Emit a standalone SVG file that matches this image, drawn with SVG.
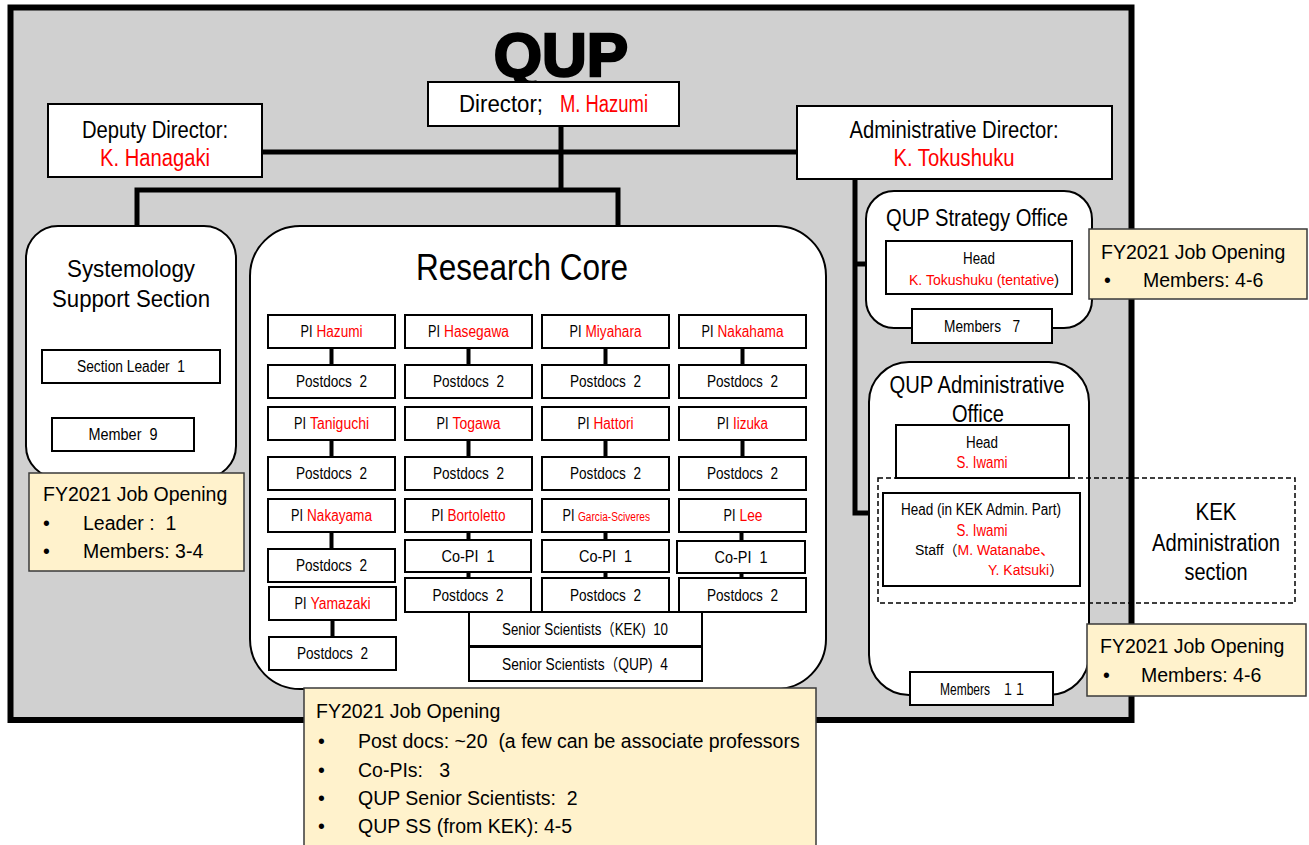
<svg xmlns="http://www.w3.org/2000/svg" width="1309" height="845" viewBox="0 0 1309 845">
<style>
text { font-family: "Liberation Sans", Arial, "Noto Sans CJK JP", sans-serif; fill: #000; }
.r { fill: #ff0000; }
.box { fill: #fff; stroke: #000; stroke-width: 2; }
.rbox { fill: #fff; stroke: #000; stroke-width: 2; }
.yel { fill: #fff2cc; stroke: #3a3a3a; stroke-width: 1.5; }
.conn { stroke: #000; stroke-width: 5; fill: none; }
.gl { stroke: #000; stroke-width: 4; fill: none; }
.g14 { font-size: 16px; text-anchor: middle; }
.s16 { font-size: 16px; }
.ttl { font-size: 23px; text-anchor: middle; }
.y { font-size: 19.5px; }
</style>
<rect x="0" y="0" width="1309" height="845" fill="#fff"/>
<g id="frame">
<rect x="10.5" y="7.5" width="1121" height="712.5" fill="#d0d0d0" stroke="#000" stroke-width="6"/>
<text x="561" y="76" font-size="62" font-weight="bold" text-anchor="middle" stroke="#000" stroke-width="2.5">QUP</text>
</g>
<g id="connectors">
<path class="conn" d="M262 152 H796"/>
<path class="conn" d="M561 126 V190"/>
<path class="conn" d="M137 228 V190 H618 V228"/>
<path class="conn" d="M855 179 V513 H869"/>
<path class="conn" d="M855 264 H866"/>
</g>
<g id="director">
<rect class="box" x="428" y="82" width="251" height="44"/>
<text x="459" y="112" font-size="23" textLength="84" lengthAdjust="spacingAndGlyphs">Director;</text>
<text class="r" x="560" y="112" font-size="23" textLength="88" lengthAdjust="spacingAndGlyphs">M. Hazumi</text>
</g>
<g id="deputy-director">
<rect class="box" x="48" y="104" width="214" height="73"/>
<text class="ttl" x="155" y="138" textLength="146" lengthAdjust="spacingAndGlyphs">Deputy Director:</text>
<text class="ttl r" x="155" y="166" textLength="110" lengthAdjust="spacingAndGlyphs">K. Hanagaki</text>
</g>
<g id="admin-director">
<rect class="box" x="797" y="106" width="315" height="73"/>
<text class="ttl" x="954" y="138" textLength="209" lengthAdjust="spacingAndGlyphs">Administrative Director:</text>
<text class="ttl r" x="954" y="166" textLength="121" lengthAdjust="spacingAndGlyphs">K. Tokushuku</text>
</g>
<g id="systemology">
<rect class="rbox" x="26" y="226" width="210" height="252" rx="32"/>
<text x="131" y="277" font-size="24" text-anchor="middle" textLength="128" lengthAdjust="spacingAndGlyphs">Systemology</text>
<text x="131" y="307" font-size="24" text-anchor="middle" textLength="158" lengthAdjust="spacingAndGlyphs">Support Section</text>
<rect class="box" x="42" y="350" width="178" height="33"/>
<text class="g14" x="131" y="372" textLength="108" lengthAdjust="spacingAndGlyphs">Section Leader&#160;&#160;1</text>
<rect class="box" x="52" y="418" width="142" height="33"/>
<text class="g14" x="123" y="440" textLength="69" lengthAdjust="spacingAndGlyphs">Member&#160;&#160;9</text>
</g>
<g id="research-core">
<rect class="rbox" x="250" y="226" width="576" height="463" rx="50"/>
<text x="522" y="280" font-size="37" text-anchor="middle" textLength="212" lengthAdjust="spacingAndGlyphs">Research Core</text>
</g>
<g id="grid-connectors">
<path class="gl" d="M331.5 348 V365 M331.5 440 V457 M331.5 532 V549 M332.5 620 V637"/>
<path class="gl" d="M468.5 348 V365 M468.5 440 V457 M468.5 532 V540 M468.5 572 V578"/>
<path class="gl" d="M605.5 348 V365 M605.5 440 V457 M605.5 532 V540 M605.5 572 V578"/>
<path class="gl" d="M742.5 348 V365 M742.5 440 V457 M741.5 532 V541 M741.5 573 V578"/>
</g>
<g id="pi-hazumi"><rect class="box" x="268" y="315" width="127" height="33"/><text class="s16" x="300.5" y="337" textLength="12" lengthAdjust="spacingAndGlyphs">PI</text><text class="s16 r" x="316.5" y="337" textLength="46" lengthAdjust="spacingAndGlyphs">Hazumi</text></g>
<g id="pd-hazumi"><rect class="box" x="268" y="365" width="127" height="33"/><text class="g14" x="331.5" y="387" textLength="71" lengthAdjust="spacingAndGlyphs">Postdocs&#160; 2</text></g>
<g id="pi-taniguchi"><rect class="box" x="268" y="407" width="127" height="33"/><text class="s16" x="294" y="429" textLength="12" lengthAdjust="spacingAndGlyphs">PI</text><text class="s16 r" x="310" y="429" textLength="59" lengthAdjust="spacingAndGlyphs">Taniguchi</text></g>
<g id="pd-taniguchi"><rect class="box" x="268" y="457" width="127" height="33"/><text class="g14" x="331.5" y="479" textLength="71" lengthAdjust="spacingAndGlyphs">Postdocs&#160; 2</text></g>
<g id="pi-nakayama"><rect class="box" x="268" y="499" width="127" height="33"/><text class="s16" x="291" y="521" textLength="12" lengthAdjust="spacingAndGlyphs">PI</text><text class="s16 r" x="307" y="521" textLength="65" lengthAdjust="spacingAndGlyphs">Nakayama</text></g>
<g id="pd-nakayama"><rect class="box" x="268" y="549" width="127" height="33"/><text class="g14" x="331.5" y="571" textLength="71" lengthAdjust="spacingAndGlyphs">Postdocs&#160; 2</text></g>
<g id="pi-yamazaki"><rect class="box" x="269" y="587" width="127" height="33"/><text class="s16" x="294.5" y="609" textLength="12" lengthAdjust="spacingAndGlyphs">PI</text><text class="s16 r" x="310.5" y="609" textLength="60" lengthAdjust="spacingAndGlyphs">Yamazaki</text></g>
<g id="pd-yamazaki"><rect class="box" x="269" y="637" width="127" height="33"/><text class="g14" x="332.5" y="659" textLength="71" lengthAdjust="spacingAndGlyphs">Postdocs&#160; 2</text></g>
<g id="pi-hasegawa"><rect class="box" x="405" y="315" width="127" height="33"/><text class="s16" x="428" y="337" textLength="12" lengthAdjust="spacingAndGlyphs">PI</text><text class="s16 r" x="444" y="337" textLength="65" lengthAdjust="spacingAndGlyphs">Hasegawa</text></g>
<g id="pd-hasegawa"><rect class="box" x="405" y="365" width="127" height="33"/><text class="g14" x="468.5" y="387" textLength="71" lengthAdjust="spacingAndGlyphs">Postdocs&#160; 2</text></g>
<g id="pi-togawa"><rect class="box" x="405" y="407" width="127" height="33"/><text class="s16" x="436.5" y="429" textLength="12" lengthAdjust="spacingAndGlyphs">PI</text><text class="s16 r" x="452.5" y="429" textLength="48" lengthAdjust="spacingAndGlyphs">Togawa</text></g>
<g id="pd-togawa"><rect class="box" x="405" y="457" width="127" height="33"/><text class="g14" x="468.5" y="479" textLength="71" lengthAdjust="spacingAndGlyphs">Postdocs&#160; 2</text></g>
<g id="pi-bortoletto"><rect class="box" x="405" y="499" width="127" height="33"/><text class="s16" x="431.5" y="521" textLength="12" lengthAdjust="spacingAndGlyphs">PI</text><text class="s16 r" x="447.5" y="521" textLength="58" lengthAdjust="spacingAndGlyphs">Bortoletto</text></g>
<g id="copi-bortoletto"><rect class="box" x="405" y="540" width="126" height="32"/><text class="g14" x="468" y="562" textLength="53" lengthAdjust="spacingAndGlyphs">Co-PI&#160; 1</text></g>
<g id="pd-bortoletto"><rect class="box" x="405" y="578" width="126" height="34"/><text class="g14" x="468" y="601" textLength="71" lengthAdjust="spacingAndGlyphs">Postdocs&#160; 2</text></g>
<g id="pi-miyahara"><rect class="box" x="542" y="315" width="127" height="33"/><text class="s16" x="569.5" y="337" textLength="12" lengthAdjust="spacingAndGlyphs">PI</text><text class="s16 r" x="585.5" y="337" textLength="56" lengthAdjust="spacingAndGlyphs">Miyahara</text></g>
<g id="pd-miyahara"><rect class="box" x="542" y="365" width="127" height="33"/><text class="g14" x="605.5" y="387" textLength="71" lengthAdjust="spacingAndGlyphs">Postdocs&#160; 2</text></g>
<g id="pi-hattori"><rect class="box" x="542" y="407" width="127" height="33"/><text class="s16" x="577.5" y="429" textLength="12" lengthAdjust="spacingAndGlyphs">PI</text><text class="s16 r" x="593.5" y="429" textLength="40" lengthAdjust="spacingAndGlyphs">Hattori</text></g>
<g id="pd-hattori"><rect class="box" x="542" y="457" width="127" height="33"/><text class="g14" x="605.5" y="479" textLength="71" lengthAdjust="spacingAndGlyphs">Postdocs&#160; 2</text></g>
<g id="pi-garcia"><rect class="box" x="542" y="499" width="127" height="33"/><text class="s16" x="562.5" y="521" textLength="12" lengthAdjust="spacingAndGlyphs">PI</text><text class="r" x="578" y="521" font-size="12.5" textLength="72" lengthAdjust="spacingAndGlyphs">Garcia-Sciveres</text></g>
<g id="copi-garcia"><rect class="box" x="542" y="540" width="127" height="32"/><text class="g14" x="605.5" y="562" textLength="53" lengthAdjust="spacingAndGlyphs">Co-PI&#160; 1</text></g>
<g id="pd-garcia"><rect class="box" x="542" y="578" width="127" height="34"/><text class="g14" x="605.5" y="601" textLength="71" lengthAdjust="spacingAndGlyphs">Postdocs&#160; 2</text></g>
<g id="pi-nakahama"><rect class="box" x="679" y="315" width="127" height="33"/><text class="s16" x="701.5" y="337" textLength="12" lengthAdjust="spacingAndGlyphs">PI</text><text class="s16 r" x="717.5" y="337" textLength="66" lengthAdjust="spacingAndGlyphs">Nakahama</text></g>
<g id="pd-nakahama"><rect class="box" x="679" y="365" width="127" height="33"/><text class="g14" x="742.5" y="387" textLength="71" lengthAdjust="spacingAndGlyphs">Postdocs&#160; 2</text></g>
<g id="pi-iizuka"><rect class="box" x="679" y="407" width="127" height="33"/><text class="s16" x="717" y="429" textLength="12" lengthAdjust="spacingAndGlyphs">PI</text><text class="s16 r" x="733" y="429" textLength="35" lengthAdjust="spacingAndGlyphs">Iizuka</text></g>
<g id="pd-iizuka"><rect class="box" x="679" y="457" width="127" height="33"/><text class="g14" x="742.5" y="479" textLength="71" lengthAdjust="spacingAndGlyphs">Postdocs&#160; 2</text></g>
<g id="pi-lee"><rect class="box" x="679" y="499" width="127" height="33"/><text class="s16" x="723.5" y="521" textLength="12" lengthAdjust="spacingAndGlyphs">PI</text><text class="s16 r" x="739.5" y="521" textLength="23" lengthAdjust="spacingAndGlyphs">Lee</text></g>
<g id="copi-lee"><rect class="box" x="677" y="541" width="128" height="32"/><text class="g14" x="741" y="563" textLength="53" lengthAdjust="spacingAndGlyphs">Co-PI&#160; 1</text></g>
<g id="pd-lee"><rect class="box" x="679" y="578" width="127" height="34"/><text class="g14" x="742.5" y="601" textLength="71" lengthAdjust="spacingAndGlyphs">Postdocs&#160; 2</text></g>
<g id="senior-kek"><rect class="box" x="469" y="612" width="233" height="34"/><text class="g14" x="585" y="635" textLength="166" lengthAdjust="spacingAndGlyphs">Senior Scientists（KEK)&#160; 10</text></g>
<g id="senior-qup"><rect class="box" x="469" y="647" width="233" height="34"/><text class="g14" x="585" y="670" textLength="166" lengthAdjust="spacingAndGlyphs">Senior Scientists（QUP)&#160; 4</text></g>
<g id="strategy-office">
<rect class="rbox" x="866" y="191" width="226" height="137" rx="28"/>
<text class="ttl" x="977" y="226" textLength="182" lengthAdjust="spacingAndGlyphs">QUP Strategy Office</text>
<rect class="box" x="886" y="241" width="186" height="53"/>
<text class="g14" x="979" y="264" textLength="32" lengthAdjust="spacingAndGlyphs">Head</text>
<text x="984" y="285" font-size="14" text-anchor="middle"><tspan class="r">K. Tokushuku (tentative</tspan>)</text>
<rect class="box" x="912" y="309" width="140" height="34"/>
<text class="g14" x="982" y="332" textLength="76" lengthAdjust="spacingAndGlyphs">Members&#160;&#160; 7</text>
</g>
<g id="admin-office">
<rect class="rbox" x="869" y="362" width="220" height="333" rx="40"/>
<text class="ttl" x="977" y="393" textLength="175" lengthAdjust="spacingAndGlyphs">QUP Administrative</text>
<text class="ttl" x="978" y="422" textLength="52" lengthAdjust="spacingAndGlyphs">Office</text>
<rect class="box" x="896" y="425" width="173" height="53"/>
<text class="g14" x="982" y="448" textLength="32" lengthAdjust="spacingAndGlyphs">Head</text>
<text class="g14 r" x="982" y="468" textLength="51" lengthAdjust="spacingAndGlyphs">S. Iwami</text>
<rect class="box" x="883" y="493" width="197" height="93"/>
<text class="g14" x="981" y="515" textLength="160" lengthAdjust="spacingAndGlyphs">Head (in KEK Admin. Part)</text>
<text class="g14 r" x="982" y="536" textLength="51" lengthAdjust="spacingAndGlyphs">S. Iwami</text>
<text x="915" y="555" font-size="14">Staff（<tspan class="r">M. Watanabe、</tspan></text>
<text x="988" y="575" font-size="14"><tspan class="r">Y. Katsuki</tspan>）</text>
<rect class="box" x="910" y="672" width="143" height="33"/>
<text class="g14" x="983" y="695" textLength="86" lengthAdjust="spacingAndGlyphs">Members　１１</text>
</g>
<g id="kek-admin">
<rect x="878" y="478" width="417" height="125" fill="none" stroke="#000" stroke-width="1.5" stroke-dasharray="5,3"/>
<text class="ttl" x="1216" y="520" font-size="24" textLength="41" lengthAdjust="spacingAndGlyphs">KEK</text>
<text class="ttl" x="1216" y="551" font-size="24" textLength="128" lengthAdjust="spacingAndGlyphs">Administration</text>
<text class="ttl" x="1216" y="580" font-size="24" textLength="63" lengthAdjust="spacingAndGlyphs">section</text>
</g>
<g id="job-systemology">
<rect class="yel" x="29" y="473" width="215" height="98"/>
<text class="y" x="43" y="501">FY2021 Job Opening</text>
<text class="y" x="43" y="530">•</text><text class="y" x="83" y="530">Leader :&#160; 1</text>
<text class="y" x="43" y="558">•</text><text class="y" x="83" y="558">Members: 3-4</text>
</g>
<g id="job-research">
<rect class="yel" x="304" y="688" width="512" height="170"/>
<text class="y" x="316" y="718">FY2021 Job Opening</text>
<text class="y" x="318" y="748">•</text><text class="y" x="358" y="748">Post docs: ~20&#160; (a few can be associate professors</text>
<text class="y" x="318" y="777">•</text><text class="y" x="358" y="777">Co-PIs:&#160;&#160; 3</text>
<text class="y" x="318" y="805">•</text><text class="y" x="358" y="805">QUP Senior Scientists:&#160; 2</text>
<text class="y" x="318" y="833">•</text><text class="y" x="358" y="833">QUP SS (from KEK): 4-5</text>
</g>
<g id="job-strategy">
<rect class="yel" x="1089" y="229" width="218" height="70"/>
<text class="y" x="1101" y="259">FY2021 Job Opening</text>
<text class="y" x="1104" y="287">•</text><text class="y" x="1143" y="287">Members: 4-6</text>
</g>
<g id="job-admin">
<rect class="yel" x="1087" y="624" width="219" height="72"/>
<text class="y" x="1100" y="653">FY2021 Job Opening</text>
<text class="y" x="1103" y="682">•</text><text class="y" x="1141" y="682">Members: 4-6</text>
</g>
</svg>
